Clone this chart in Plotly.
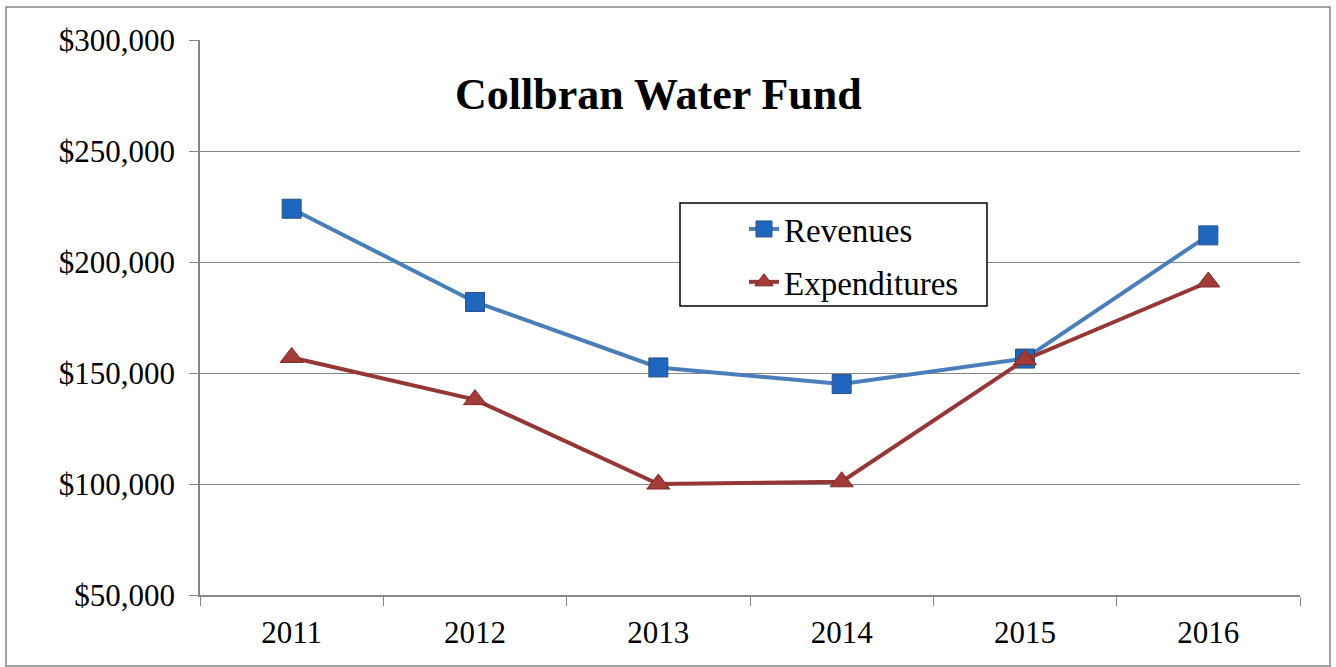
import plotly.graph_objects as go

years = ["2011", "2012", "2013", "2014", "2015", "2016"]
revenues = [224000, 182000, 152500, 145000, 156500, 212000]
expenditures = [157000, 138000, 100000, 101000, 156000, 191000]

SERIF = "Liberation Serif, Times New Roman, serif"

# plot area in pixels: x 200..1300, y 40..595
L, R, T, B = 200, 1300, 40, 595


def px_x(x):
    return (x - L) / (R - L)


def px_y(y):
    return (B - y) / (B - T)


fig = go.Figure()
fig.add_trace(go.Scatter(
    x=years, y=revenues, name="Revenues", mode="lines+markers",
    legendgroup="rev",
    line=dict(color="#4A7EBB", width=4),
    marker=dict(symbol="square", size=19, color="#1F66BF",
                line=dict(color="#2A4F80", width=1)),
))
fig.add_trace(go.Scatter(
    x=years, y=expenditures, name="Expenditures", mode="lines+markers",
    legendgroup="exp",
    line=dict(color="#953735", width=4),
    marker=dict(symbol="triangle-up", size=20, color="#A33B36",
                line=dict(color="#7A2A28", width=1)),
))

fig.update_layout(
    width=1336, height=667,
    margin=dict(l=L, r=1336 - R, t=T, b=667 - B),
    paper_bgcolor="white", plot_bgcolor="white",
    font=dict(family=SERIF, size=31, color="#000000"),
    showlegend=True,
    legend=dict(
        x=px_x(744), y=px_y(201), xanchor="left", yanchor="top",
        bgcolor="rgba(0,0,0,0)", borderwidth=0,
        font=dict(family=SERIF, size=33, color="#000000"),
        tracegroupgap=7,
    ),
    xaxis=dict(
        type="category", tickson="boundaries", ticks="outside", ticklen=9,
        tickcolor="#868686", showgrid=False, showline=True,
        linecolor="#868686", linewidth=1.5, range=[-0.5, 5.5],
        tickfont=dict(family=SERIF, size=31), ticklabelstandoff=9,
    ),
    yaxis=dict(
        range=[50000, 300000], dtick=50000, tickprefix="$", tickformat=",",
        ticks="outside", ticklen=9, tickcolor="#868686",
        showgrid=True, gridcolor="#868686", gridwidth=1.3,
        showline=True, linecolor="#868686", linewidth=1.5,
        zeroline=False, tickfont=dict(family=SERIF, size=31),
        ticklabelstandoff=8,
    ),
    annotations=[dict(
        text="<b>Collbran Water Fund</b>", xref="paper", yref="paper",
        x=px_x(658.5), y=px_y(94), xanchor="center", yanchor="middle",
        showarrow=False, font=dict(family=SERIF, size=44, color="#000000"),
    )],
    shapes=[
        # outer chart border
        dict(type="rect", xref="paper", yref="paper",
             x0=px_x(6), x1=px_x(1330), y0=px_y(666), y1=px_y(7),
             line=dict(color="#868686", width=1.5),
             fillcolor="rgba(0,0,0,0)", layer="below"),
        # legend frame
        dict(type="rect", xref="paper", yref="paper",
             x0=px_x(680), x1=px_x(987), y0=px_y(306), y1=px_y(203),
             line=dict(color="#000000", width=1.5),
             fillcolor="white", layer="above"),
    ],
)

fig.write_html("out.html")
